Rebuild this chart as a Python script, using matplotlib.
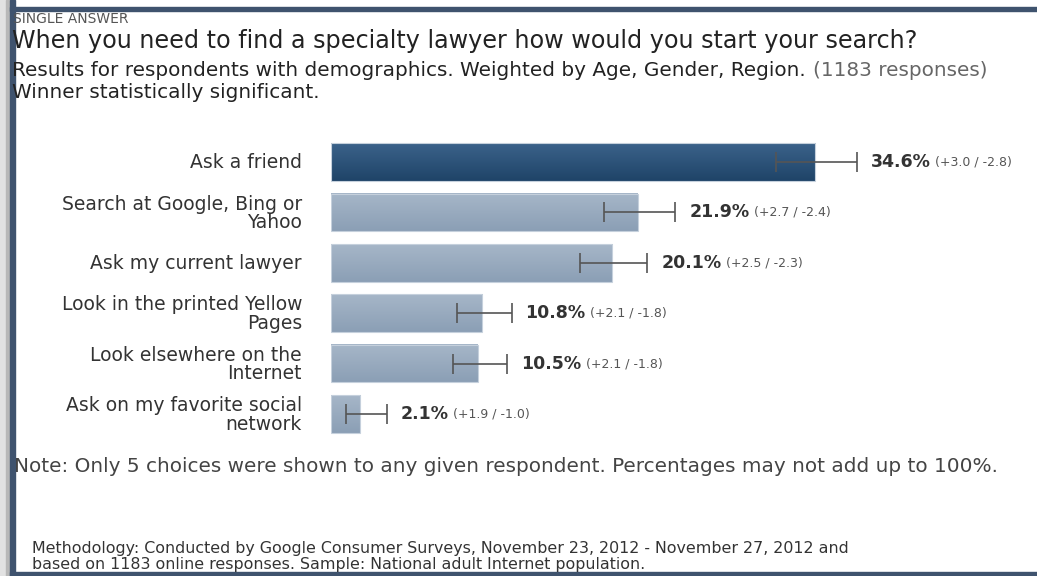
import numpy as np
import matplotlib
matplotlib.use("Agg")
import matplotlib.pyplot as plt
from matplotlib.colors import LinearSegmentedColormap
from matplotlib.patches import Rectangle

# survey results
categories = ["Ask a friend", "Search at Google, Bing or\nYahoo", "Ask my current lawyer",
              "Look in the printed Yellow\nPages", "Look elsewhere on the\nInternet",
              "Ask on my favorite social\nnetwork"]
values = [34.6, 21.9, 20.1, 10.8, 10.5, 2.1]
err_plus = [3.0, 2.7, 2.5, 2.1, 2.1, 1.9]
err_minus = [2.8, 2.4, 2.3, 1.8, 1.8, 1.0]

W, H = 1037, 576
plt.rcParams['font.family'] = ['DejaVu Sans']
fig = plt.figure(figsize=(W / 100, H / 100), dpi=100)


def px(x, y):
    return x / W, 1 - y / H


# frame decoration
fig.patches.append(Rectangle(px(0, H), 6 / W, 1, transform=fig.transFigure, color="#e2e2e2", zorder=0))
fig.patches.append(Rectangle(px(6, H), 4 / W, 1, transform=fig.transFigure, color="#b8b8b8", zorder=0))
fig.patches.append(Rectangle(px(10, H), 5 / W, 1, transform=fig.transFigure, color="#3f536e", zorder=1))
fig.patches.append(Rectangle(px(10, 11), 1, 4 / H, transform=fig.transFigure, color="#3f536e", zorder=1))
fig.patches.append(Rectangle(px(10, H), 1, 4 / H, transform=fig.transFigure, color="#3f536e", zorder=1))

# bar axes
ax = fig.add_axes([331 / W, 1 - 439.2 / H, 700 / W, 302.4 / H])
ax.set_xlim(0, 50)

# header text
fig.text(*px(13, 19), "SINGLE ANSWER", fontsize=10, color="#555555", va="center")
fig.text(*px(12, 41), "When you need to find a specialty lawyer how would you start your search?",
         fontsize=17.2, color="#222222", va="center")
t = fig.text(*px(12, 71), "Results for respondents with demographics. Weighted by Age, Gender, Region.",
             fontsize=14.4, color="#222222", va="center")
ax.annotate("(1183 responses)", xy=(1, 0.5), xycoords=t, xytext=(5, 0), textcoords="offset points",
            fontsize=14.4, color="#666666", va="center", ha="left", annotation_clip=False)
fig.text(*px(12, 92), "Winner statistically significant.", fontsize=14.4, color="#222222", va="center")

y = np.arange(len(values))
h = 0.75

dark = LinearSegmentedColormap.from_list("d", ["#3b628a", "#1f4468"])
light = LinearSegmentedColormap.from_list("l", ["#a6b6c8", "#8b9fb5"])
grad = np.linspace(0, 1, 64).reshape(-1, 1)
for i, v in enumerate(values):
    cmap = dark if i == 0 else light
    ax.imshow(grad, cmap=cmap, extent=[0, v, y[i] + h / 2, y[i] - h / 2],
              origin="upper", aspect="auto", zorder=1)
ax.barh(y, values, height=h, facecolor="none", edgecolor="#c5d0dc", lw=0.8, zorder=2)

ax.errorbar(values, y, xerr=[err_minus, err_plus], fmt="none", ecolor="#555555",
            elinewidth=1.2, capsize=7, capthick=1.2, zorder=3)

for i, v in enumerate(values):
    t1 = ax.annotate(f"{v:.1f}%", xy=(v + err_plus[i], y[i]), xytext=(10, 0),
                     textcoords="offset points", fontsize=12.5, fontweight="bold",
                     color="#333333", va="center", ha="left")
    ax.annotate(f"(+{err_plus[i]:.1f} / -{err_minus[i]:.1f})", xy=(1, 0.5), xycoords=t1,
                xytext=(3, 0), textcoords="offset points", fontsize=9,
                color="#555555", va="center", ha="left", annotation_clip=False)

ax.set_ylim(5.5, -0.5)
ax.axis("off")

for i, c in enumerate(categories):
    fig.text(302 / W, 1 - (163 + i * 50.4) / H, c, fontsize=13.5, color="#333333",
             ha="right", va="center", multialignment="right", linespacing=0.98)

# footer
fig.text(*px(14, 467), "Note: Only 5 choices were shown to any given respondent. Percentages may not add up to 100%.",
         fontsize=14.4, color="#444444", va="center")
fig.text(*px(32, 549), "Methodology: Conducted by Google Consumer Surveys, November 23, 2012 - November 27, 2012 and",
         fontsize=11.4, color="#333333", va="center")
fig.text(*px(32, 565), "based on 1183 online responses. Sample: National adult Internet population.",
         fontsize=11.4, color="#333333", va="center")

fig.savefig("out.png", dpi=100)
